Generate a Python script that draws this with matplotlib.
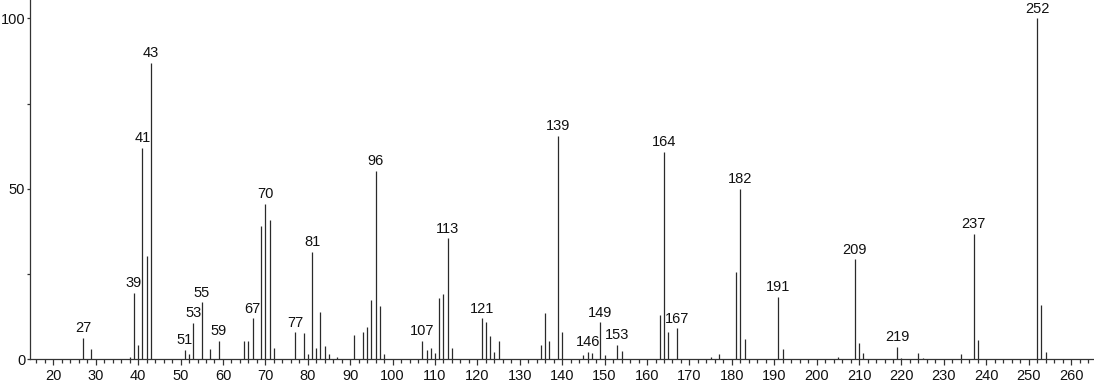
import matplotlib
matplotlib.use("Agg")
import matplotlib.pyplot as plt
from matplotlib.ticker import MultipleLocator

plt.rcParams['font.family'] = ['Liberation Sans', 'DejaVu Sans']

# m/z values and relative intensities
mz = [27, 29, 38, 39, 40, 41, 42, 43, 51, 52, 53, 55, 57, 59, 65, 66, 67, 69, 70, 71, 72,
      77, 79, 80, 81, 82, 83, 84, 85, 87, 91, 93, 94, 95, 96, 97, 98,
      107, 108, 109, 110, 111, 112, 113, 114, 121, 122, 123, 124, 125,
      135, 136, 137, 139, 140, 145, 146, 147, 149, 150, 153, 154,
      163, 164, 165, 167, 175, 177, 181, 182, 183, 191, 192,
      205, 209, 210, 211, 219, 220, 224, 225, 234, 237, 238, 252, 253, 254]
intensity = [6.2, 2.9, 0.6, 19.4, 4.2, 62.0, 30.4, 87.0, 2.7, 1.5, 10.7, 16.7, 2.9, 5.3, 5.3, 5.3, 12.0, 39.2, 45.5, 40.9, 3.2,
             7.9, 7.6, 1.6, 31.4, 3.2, 14.0, 3.9, 1.6, 0.6, 7.1, 8.1, 9.4, 17.4, 55.3, 15.6, 1.6,
             5.5, 2.7, 3.2, 1.8, 18.1, 19.1, 35.5, 3.4, 12.0, 10.8, 6.8, 2.2, 5.3,
             4.2, 13.5, 5.3, 65.5, 7.9, 1.3, 2.2, 1.8, 10.8, 1.3, 4.2, 2.5,
             13.0, 60.8, 8.1, 9.1, 0.6, 1.6, 25.6, 50.1, 5.9, 18.2, 2.9,
             0.6, 29.3, 4.9, 1.8, 3.7, 0.3, 1.8, 0.5, 1.6, 36.9, 5.7, 100.0, 15.9, 2.2]
labeled = [27, 39, 41, 43, 51, 53, 55, 59, 67, 70, 77, 81, 96, 107, 113, 121, 139, 146,
           149, 153, 164, 167, 182, 191, 209, 219, 237, 252]

W, H = 1094, 384
fig = plt.figure(figsize=(W / 100, H / 100), dpi=100)
ax = fig.add_axes([30 / W, 24.7 / H, 1 - 30 / W, 1 - 24.7 / H])

ax.vlines(mz, 0, intensity, colors='#2a2a2a', linewidth=0.9)

lookup = dict(zip(mz, intensity))
for m in labeled:
    ax.annotate(str(m), (m, lookup[m]), xytext=(0, 2), textcoords='offset points',
                ha='center', va='bottom', fontsize=10.5, color='#111111')

ax.set_xlim(14.5, 265.4)
ax.set_ylim(0, 105.4)

ax.xaxis.set_major_locator(MultipleLocator(10))
ax.xaxis.set_minor_locator(MultipleLocator(2))
ax.yaxis.set_major_locator(MultipleLocator(50))
ax.yaxis.set_minor_locator(MultipleLocator(25))

for s in ['top', 'right']:
    ax.spines[s].set_visible(False)
for s in ['left', 'bottom']:
    ax.spines[s].set_color('#333333')
    ax.spines[s].set_linewidth(0.9)

ax.tick_params(axis='x', which='major', length=4.5, width=0.9, color='#333333',
               labelsize=10.5, labelcolor='#111111', pad=2.5)
ax.tick_params(axis='x', which='minor', length=3, width=0.9, color='#333333')
ax.tick_params(axis='y', which='major', length=2.5, width=0.9, color='#333333',
               labelsize=10.5, labelcolor='#111111', pad=1.0)
ax.tick_params(axis='y', which='minor', length=2.5, width=0.9, color='#333333')
ax.patch.set_alpha(0)

fig.savefig('out.png', dpi=100)
